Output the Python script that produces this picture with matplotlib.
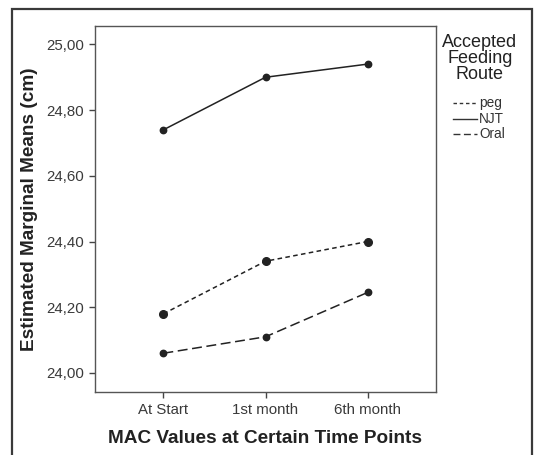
import matplotlib
matplotlib.use("Agg")
import matplotlib.pyplot as plt
from matplotlib.patches import Rectangle
from matplotlib.lines import Line2D
from matplotlib.ticker import FuncFormatter

plt.rcParams['font.family'] = ['Liberation Sans', 'DejaVu Sans']

# data
time_points = ["At Start", "1st month", "6th month"]
peg = [24.18, 24.34, 24.40]
njt = [24.74, 24.90, 24.94]
oral = [24.06, 24.11, 24.245]
y_ticks = [24.0, 24.2, 24.4, 24.6, 24.8, 25.0]

fig = plt.figure(figsize=(5.37, 4.55), dpi=100)
W, H = 537, 455

# outer chart frame (open at the bottom)
fig.patches.append(Rectangle((12 / W, -0.05), (532 - 12) / W, 1.05 - 9 / H,
                             transform=fig.transFigure, fill=False,
                             edgecolor="#3a3a3a", lw=1.6))

ax = fig.add_axes([95 / W, 1 - 392 / H, (436 - 95) / W, (392 - 26) / H])
x = range(len(time_points))
c = "#222222"
ax.plot(x, peg, color=c, lw=1.1, dashes=(3, 2.2), marker="o", ms=5.5)
ax.plot(x, njt, color=c, lw=1.1, marker="o", ms=4.6)
ax.plot(x, oral, color=c, lw=1.1, dashes=(6.5, 3), marker="o", ms=4.6)

ax.set_xlim(-0.67, 2.67)
ax.set_ylim(23.942, 25.056)
ax.set_xticks(list(x))
ax.set_xticklabels(time_points)
ax.set_yticks(y_ticks)
ax.yaxis.set_major_formatter(FuncFormatter(lambda v, p: f"{v:.2f}".replace(".", ",")))
ax.tick_params(colors="#444444", labelcolor="#3a3a3a", labelsize=10.8, length=4.5, width=1)
for s in ax.spines.values():
    s.set_color("#555555")
    s.set_linewidth(1)

ax.set_xlabel("MAC Values at Certain Time Points", fontsize=13.7, fontweight="bold",
              color="#222222", labelpad=9)
ax.set_ylabel("Estimated Marginal Means (cm)", fontsize=13.7, fontweight="bold",
              color="#222222", labelpad=6)

# legend drawn in figure space
fig.text(480 / W, 1 - 34 / H, "Accepted\nFeeding\nRoute", ha="center", va="top",
         fontsize=13, color="#222222", linespacing=0.92)
labels = ["peg", "NJT", "Oral"]
styles = [dict(dashes=(2.5, 2)), dict(), dict(dashes=(5, 2.5))]
ys = [103, 119, 134]
for lab, st, yy in zip(labels, styles, ys):
    fy = 1 - yy / H
    fig.lines.append(Line2D([453 / W, 477 / W], [fy, fy], transform=fig.transFigure,
                            color="#333333", lw=1, **st))
    fig.text(479 / W, fy, lab, ha="left", va="center", fontsize=9.8, color="#333333")

fig.savefig("out.png", dpi=100)
